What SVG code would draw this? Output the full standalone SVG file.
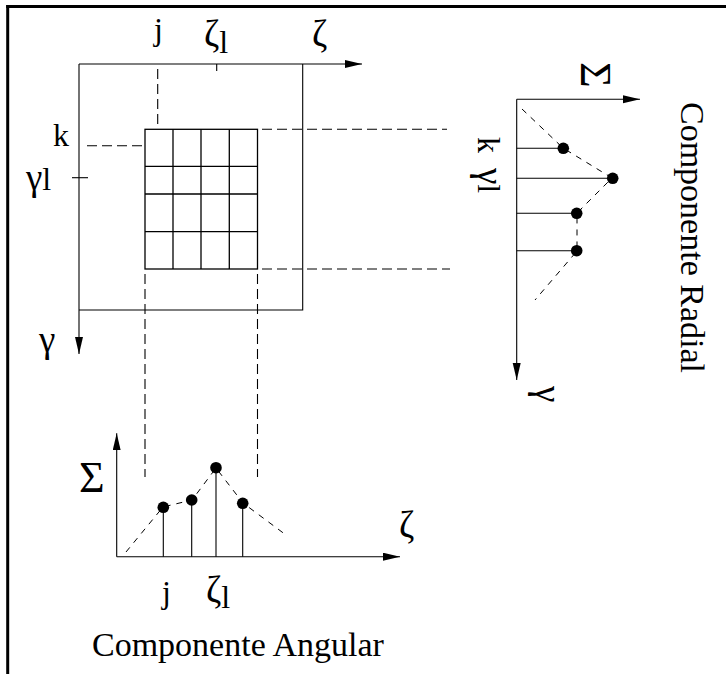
<svg xmlns="http://www.w3.org/2000/svg" width="726" height="674" viewBox="0 0 726 674">
<style>
.ln{stroke:#000;stroke-width:1.1;fill:none}
.gr{stroke:#000;stroke-width:1.3;fill:none}
.ds{stroke:#000;stroke-width:1.1;fill:none;stroke-dasharray:10 5}
.dc{stroke:#000;stroke-width:1;fill:none;stroke-dasharray:6 6}
.t{font-family:"Liberation Serif","Times New Roman",serif;font-size:32px;fill:#000}
.g{font-family:"Liberation Serif","Times New Roman",serif;font-size:37px;fill:#000}
.big{font-family:"Liberation Serif","Times New Roman",serif;font-size:44px;fill:#000}
.ttl{font-family:"Liberation Serif","Times New Roman",serif;font-size:34px;fill:#000}
.dot{fill:#000}
</style>
<defs>
<marker id="ah" markerUnits="userSpaceOnUse" markerWidth="18" markerHeight="10" refX="17" refY="4" orient="auto">
<path d="M0,0 L17,4 L0,8 Z" fill="#000"/>
</marker>
</defs>
<rect width="726" height="674" fill="#fff"/>
<g id="border">
<line x1="6.2" y1="6.5" x2="726" y2="6.5" stroke="#000" stroke-width="3"/>
<line x1="7.7" y1="5" x2="7.7" y2="674" stroke="#000" stroke-width="3"/>
</g>
<g id="connectors">
<line class="ln" x1="79" y1="64" x2="362" y2="64" marker-end="url(#ah)"/>
<line class="ln" x1="79" y1="64" x2="79" y2="354" marker-end="url(#ah)"/>
<polyline class="ln" points="302.7,64 302.7,310 79,310"/>
<line class="ln" x1="216.7" y1="64" x2="216.7" y2="71"/>
<line class="ln" x1="72" y1="177.7" x2="88" y2="177.7"/>
<line class="ds" x1="157.7" y1="69" x2="157.7" y2="129"/>
<line class="ds" x1="87" y1="145.7" x2="145" y2="145.7"/>
<line class="ds" x1="262" y1="129.3" x2="447" y2="129.3"/>
<line class="ds" x1="262" y1="269" x2="450" y2="269"/>
<line class="ds" x1="145" y1="274" x2="145" y2="477"/>
<line class="ds" x1="257.5" y1="274" x2="257.5" y2="477"/>
<line class="ln" x1="516.7" y1="99.3" x2="640" y2="99.3" marker-end="url(#ah)"/>
<line class="ln" x1="516.7" y1="99.3" x2="516.7" y2="380" marker-end="url(#ah)"/>
<line class="ln" x1="516.7" y1="148.3" x2="563.3" y2="148.3"/>
<line class="ln" x1="516.7" y1="178.3" x2="612.7" y2="178.3"/>
<line class="ln" x1="516.7" y1="213.3" x2="576.7" y2="213.3"/>
<line class="ln" x1="516.7" y1="250.7" x2="576.7" y2="250.7"/>
<path class="dc" d="M522,109 L563,148 L612,178 L577,213 L577,251 L535,300"/>
<line class="ln" x1="116.7" y1="556.7" x2="116.7" y2="433.3" marker-end="url(#ah)"/>
<line class="ln" x1="116.7" y1="556.7" x2="400" y2="556.7" marker-end="url(#ah)"/>
<line class="ln" x1="163.3" y1="556.7" x2="163.3" y2="507.3"/>
<line class="ln" x1="191.7" y1="556.7" x2="191.7" y2="500"/>
<line class="ln" x1="216" y1="556.7" x2="216" y2="467.7"/>
<line class="ln" x1="242.7" y1="556.7" x2="242.7" y2="503.3"/>
<path class="dc" d="M126,552 L163,507 L192,500 L216,468 L243,503 L286,535"/>
</g>
<g id="grid">
<rect class="gr" x="145" y="129.3" width="112.5" height="139.7"/>
<line class="gr" x1="173" y1="129.3" x2="173" y2="269"/>
<line class="gr" x1="201" y1="129.3" x2="201" y2="269"/>
<line class="gr" x1="229.3" y1="129.3" x2="229.3" y2="269"/>
<line class="gr" x1="145" y1="166.3" x2="257.5" y2="166.3"/>
<line class="gr" x1="145" y1="194" x2="257.5" y2="194"/>
<line class="gr" x1="145" y1="231.7" x2="257.5" y2="231.7"/>
</g>
<g id="dots">
<circle class="dot" cx="563.3" cy="148.3" r="5.8"/>
<circle class="dot" cx="612.7" cy="178.3" r="5.8"/>
<circle class="dot" cx="576.7" cy="213.3" r="5.8"/>
<circle class="dot" cx="576.7" cy="250.7" r="5.8"/>
<circle class="dot" cx="163.3" cy="507.3" r="5.8"/>
<circle class="dot" cx="191.7" cy="500" r="5.8"/>
<circle class="dot" cx="216" cy="467.7" r="5.8"/>
<circle class="dot" cx="242.7" cy="503.3" r="5.8"/>
</g>
<g id="labels">
<text class="t" x="154" y="40">j</text>
<text class="g" x="204" y="46">ζ<tspan class="t" dy="7">l</tspan></text>
<text class="g" x="312" y="46">ζ</text>
<text class="t" x="53" y="146">k</text>
<text class="g" x="26" y="190">γ<tspan class="t">l</tspan></text>
<text class="g" x="39" y="352">γ</text>
<text class="big" transform="translate(581,62) rotate(90)">Σ</text>
<text class="t" transform="translate(478,137) rotate(90)">k</text>
<text class="g" transform="translate(478,168) rotate(90)">γ<tspan class="t">l</tspan></text>
<text class="g" transform="translate(536,386) rotate(90)">γ</text>
<text class="ttl" transform="translate(681,102) rotate(90)">Componente Radial</text>
<text class="big" x="79" y="492">Σ</text>
<text class="g" x="399" y="537">ζ</text>
<text class="t" x="162" y="603">j</text>
<text class="g" x="206" y="602">ζ<tspan class="t" dy="6">l</tspan></text>
<text class="ttl" x="92" y="656">Componente Angular</text>
</g>
</svg>
